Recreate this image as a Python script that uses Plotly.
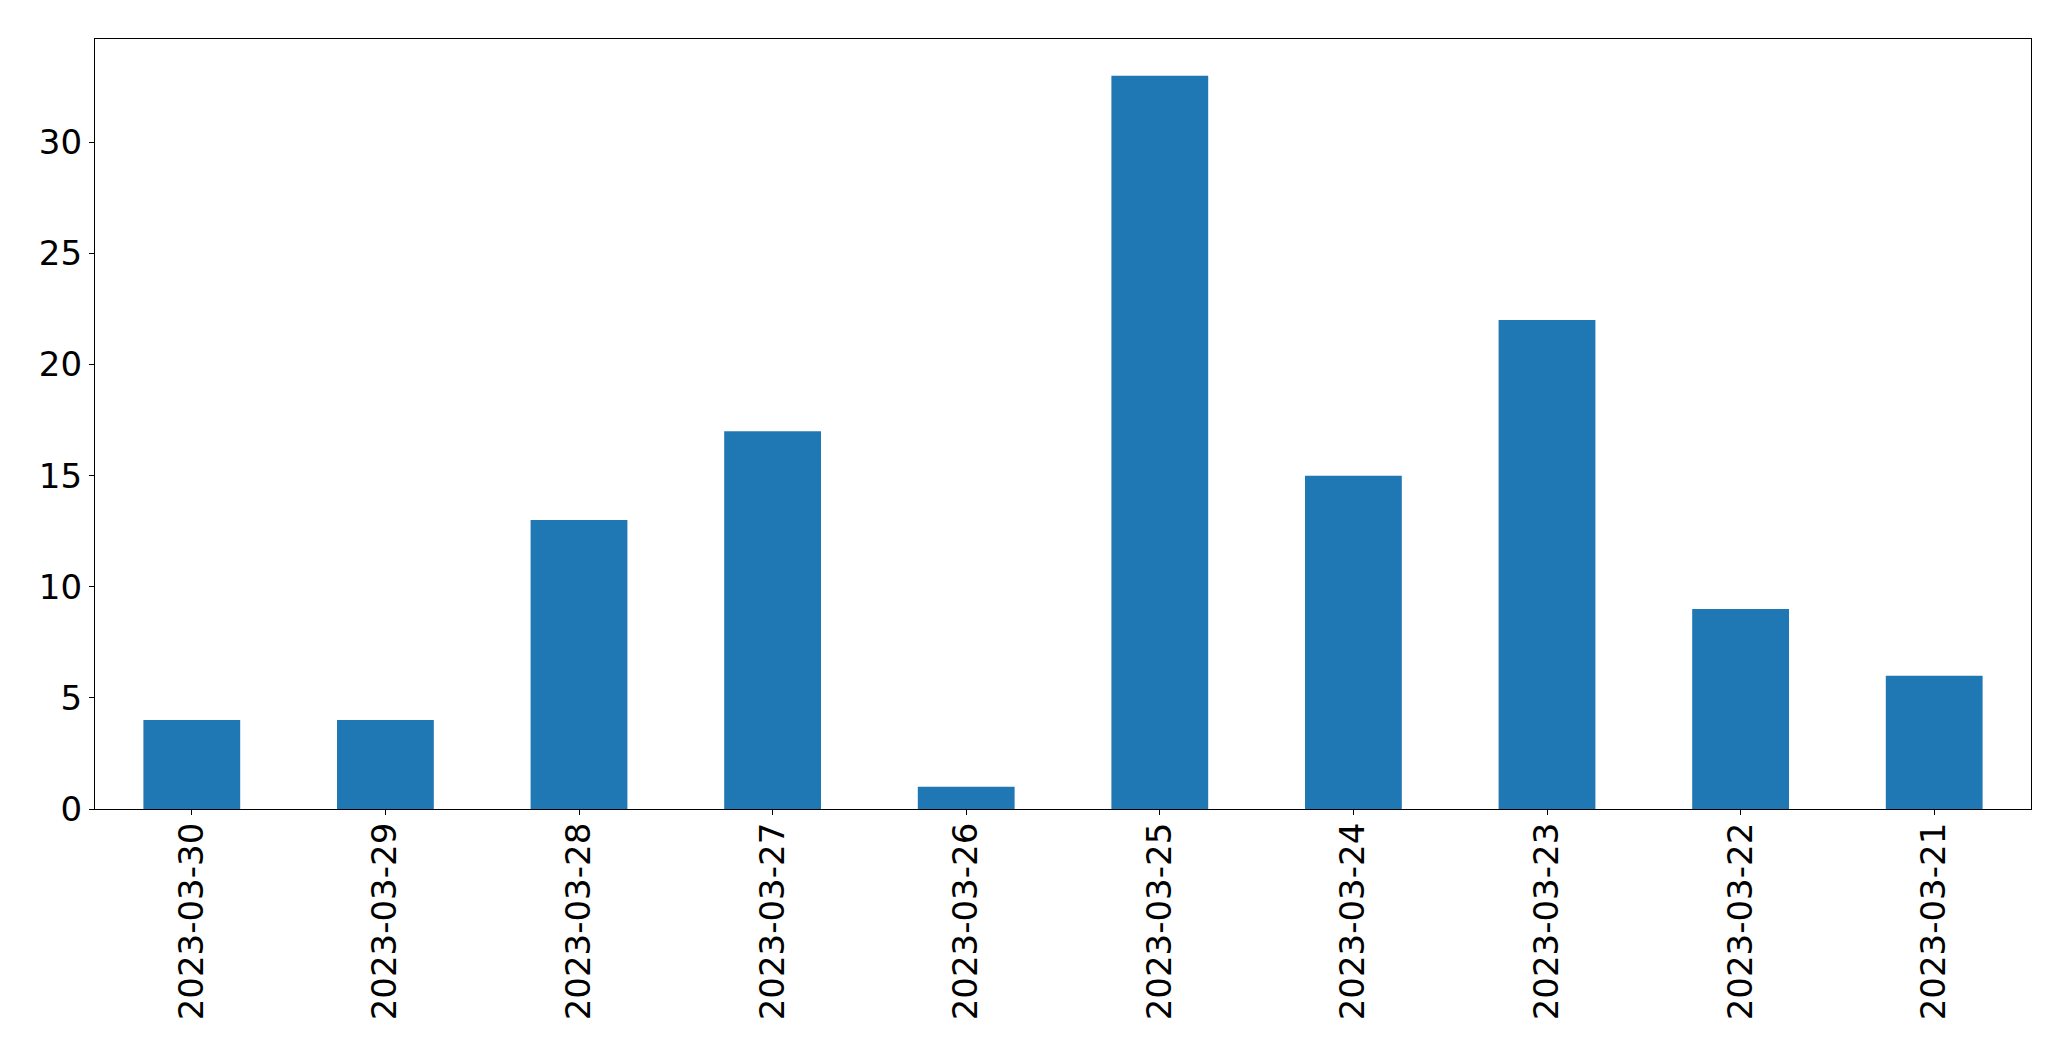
import plotly.graph_objects as go

dates = ["2023-03-30", "2023-03-29", "2023-03-28", "2023-03-27", "2023-03-26",
         "2023-03-25", "2023-03-24", "2023-03-23", "2023-03-22", "2023-03-21"]
counts = [4, 4, 13, 17, 1, 33, 15, 22, 9, 6]
y_ticks = [0, 5, 10, 15, 20, 25, 30]

fig = go.Figure(go.Bar(
    x=list(range(len(dates))),
    y=counts,
    width=0.5,
    marker=dict(color="#1f77b4", line=dict(width=0)),
))

axis_common = dict(
    showline=True, linecolor="black", linewidth=1.3, mirror=True,
    ticks="outside", ticklen=5, tickwidth=1.3, tickcolor="black",
    showgrid=False, zeroline=False,
    tickfont=dict(family="DejaVu Sans", size=34, color="black"),
)

fig.update_layout(
    width=2071, height=1061,
    margin=dict(l=94.5, r=40, t=39, b=252, autoexpand=False),
    paper_bgcolor="white", plot_bgcolor="white",
    showlegend=False,
    xaxis=dict(range=[-0.5, len(dates) - 0.5], tickmode="array",
               tickvals=list(range(len(dates))), ticktext=dates,
               tickangle=-90, ticklabelstandoff=-6, **axis_common),
    yaxis=dict(range=[0, max(counts) * 1.05], tickmode="array",
               tickvals=y_ticks, ticktext=[str(v) for v in y_ticks],
               **axis_common),
)

fig.write_html("out.html", config={"displayModeBar": False},
               post_script="document.body.style.margin='0';document.body.style.overflow='hidden';")
